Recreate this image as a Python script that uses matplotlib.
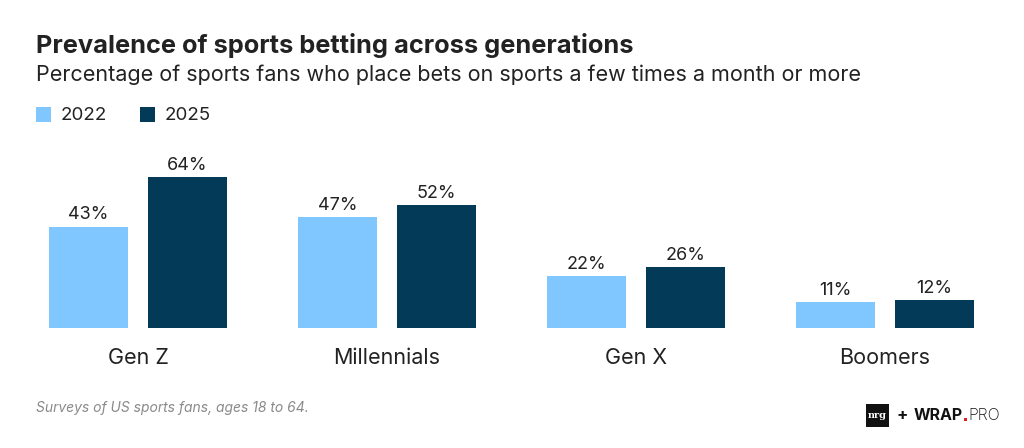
import numpy as np
import matplotlib
matplotlib.use("Agg")
import matplotlib.pyplot as pl
import matplotlib.patches as patches

pl.rcParams['font.family'] = ['Inter', 'DejaVu Sans']

# data
generations = ["Gen Z", "Millennials", "Gen X", "Boomers"]
years = ["2022", "2025"]
vals_2022 = [43, 47, 22, 11]
vals_2025 = [64, 52, 26, 12]

colors = ["#80C6FF", "#023A57"]
txt = "#222222"

W, H = 1024, 448
fig = pl.figure(figsize=(W / 100, H / 100), dpi=100)

# axes placed in pixel terms: bars span x 49..974, baseline y=328, 64% at y=177
ax = fig.add_axes([49 / W, (H - 328) / H, 925 / W, 151 / H])
ax.set_axis_off()

x = np.arange(len(generations))
bw = 79 / 249.0
off = 99 / 2 / 249.0
for k, (vals, col) in enumerate([(vals_2022, colors[0]), (vals_2025, colors[1])]):
	xs = x + (off if k else -off)
	ax.bar(xs, vals, width=bw, color=col)
	for xi, v in zip(xs, vals):
		ax.text(xi, v + 1.3, "%d%%" % v, ha='center', va='bottom', fontsize=13, color=txt)

ax.set_xlim(-off - bw / 2, 3 + off + bw / 2)
ax.set_ylim(0, 64)

for xi, g in zip(x, generations):
	ax.annotate(g, (xi, 0), xytext=(0, -21.5), textcoords='offset points',
		ha='center', va='center', fontsize=15.5, color=txt, annotation_clip=False)

# titles
fig.text(36 / W, 1 - 45 / H, "Prevalence of sports betting across generations",
	fontsize=18.3, fontweight='bold', color=txt, va='center')
fig.text(36 / W, 1 - 75 / H, "Percentage of sports fans who place bets on sports a few times a month or more",
	fontsize=15.5, color=txt, va='center')

# legend
for i, (lab, col) in enumerate(zip(years, colors)):
	x0 = 36 + i * 104
	fig.patches.append(patches.Rectangle((x0 / W, 1 - 122 / H), 15 / W, 15 / H,
		transform=fig.transFigure, facecolor=col, edgecolor='none'))
	fig.text((x0 + 25) / W, 1 - 115 / H, lab, fontsize=13.5, color=txt, va='center')

# footer
fig.text(36 / W, 1 - 408 / H, "Surveys of US sports fans, ages 18 to 64.",
	fontsize=10, style='italic', color="#8a8a8a", va='center')

# logos
fig.patches.append(patches.Rectangle((866 / W, 1 - 427 / H), 23 / W, 23 / H,
	transform=fig.transFigure, facecolor="#111111", edgecolor='none'))
fig.text(877.5 / W, 1 - 415 / H, "nrg", fontsize=7, fontweight='bold', color='white',
	ha='center', va='center', family='DejaVu Serif')
fig.text(897 / W, 1 - 415 / H, "+", fontsize=12, fontweight='bold', color="#111111", va='center')
r = fig.canvas.get_renderer()
t = fig.text(914 / W, 1 - 415 / H, "WRAP", fontsize=11.5, fontweight='bold', color="#111111", va='center')
xw = 914 + t.get_window_extent(r).width
# red dot of the wordmark
fig.patches.append(patches.Rectangle(((xw + 0.5) / W, 1 - 421 / H), 3.5 / W, 3.5 / H,
	transform=fig.transFigure, facecolor="#e0202a", edgecolor='none'))
fig.text((xw + 5) / W, 1 - 415 / H, "PRO", fontsize=11.5, fontweight='light', color="#111111", va='center')

pl.savefig("out.png", dpi=100)
pl.close()
